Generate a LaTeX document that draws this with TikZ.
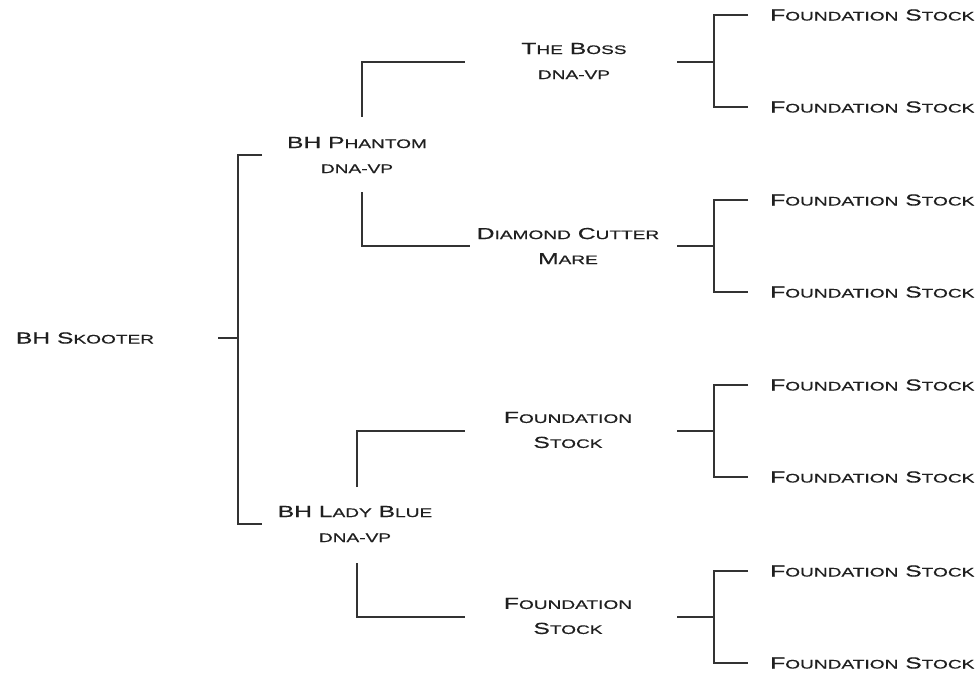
\documentclass[tikz,border=0pt]{standalone}
\usepackage{fontspec}
\setmainfont{Liberation Sans}[FakeStretch=1.54,FakeBold=0.5]
\newcommand\bigc{\fontsize{16}{18}\selectfont}
\newcommand\fsc[1]{{\fontsize{12.4}{14}\selectfont\MakeUppercase{#1}}}
\begin{document}
\begin{tikzpicture}[x=1pt,y=-1pt,
  lbl/.style={inner sep=0pt,align=center,text=black!88,font=\bigc},
  ln/.style={draw=black!80,line width=1.4pt}]
\useasboundingbox[fill=white] (0,0) rectangle (980,674);
% nodes
\node[lbl] (sk) at (85,338) {BH S\fsc{kooter}};
\node[lbl] (ph) at (357,155) {BH P\fsc{hantom}\\[7pt]\fsc{dna-vp}};
\node[lbl] (lb) at (355,524) {BH L\fsc{ady} B\fsc{lue}\\[7pt]\fsc{dna-vp}};
\node[lbl] (boss) at (574,61) {T\fsc{he} B\fsc{oss}\\[7pt]\fsc{dna-vp}};
\node[lbl] (dc) at (568,246) {D\fsc{iamond} C\fsc{utter}\\[7pt]M\fsc{are}};
\node[lbl] (fa) at (568,430) {F\fsc{oundation}\\[7pt]S\fsc{tock}};
\node[lbl] (fb) at (568,616) {F\fsc{oundation}\\[7pt]S\fsc{tock}};
\foreach \n/\y in {1/15,2/107,3/200,4/292,5/385,6/477,7/571,8/663}
  \node[lbl,anchor=west] (g\n) at (770,\y) {F\fsc{oundation} S\fsc{tock}};
% bracket coordinates
\coordinate (s0) at (218,338); \coordinate (s1) at (238,338);
\coordinate (s1t) at (238,155); \coordinate (s1b) at (238,524);
\coordinate (e1t) at (262,155); \coordinate (e1b) at (262,524);
\draw[ln] (s0) -- (s1);
\draw[ln] (e1t) -- (s1t) -- (s1b) -- (e1b);
% Phantom
\coordinate (p1) at (362,117); \coordinate (p2) at (362,62); \coordinate (p3) at (465,62);
\coordinate (p4) at (362,192); \coordinate (p5) at (362,246); \coordinate (p6) at (470,246);
\draw[ln] (p1) -- (p2) -- (p3);
\draw[ln] (p4) -- (p5) -- (p6);
% Lady Blue
\coordinate (l1) at (357,487); \coordinate (l2) at (357,431); \coordinate (l3) at (465,431);
\coordinate (l4) at (357,563); \coordinate (l5) at (357,617); \coordinate (l6) at (465,617);
\draw[ln] (l1) -- (l2) -- (l3);
\draw[ln] (l4) -- (l5) -- (l6);
% right brackets
\foreach \m/\t/\b in {62/15/107,246/200/292,431/385/477,617/571/663}{
  \draw[ln] (677,\m) -- (714,\m);
  \draw[ln] (748,\t) -- (714,\t) -- (714,\b) -- (748,\b);
}
\end{tikzpicture}
\end{document}
